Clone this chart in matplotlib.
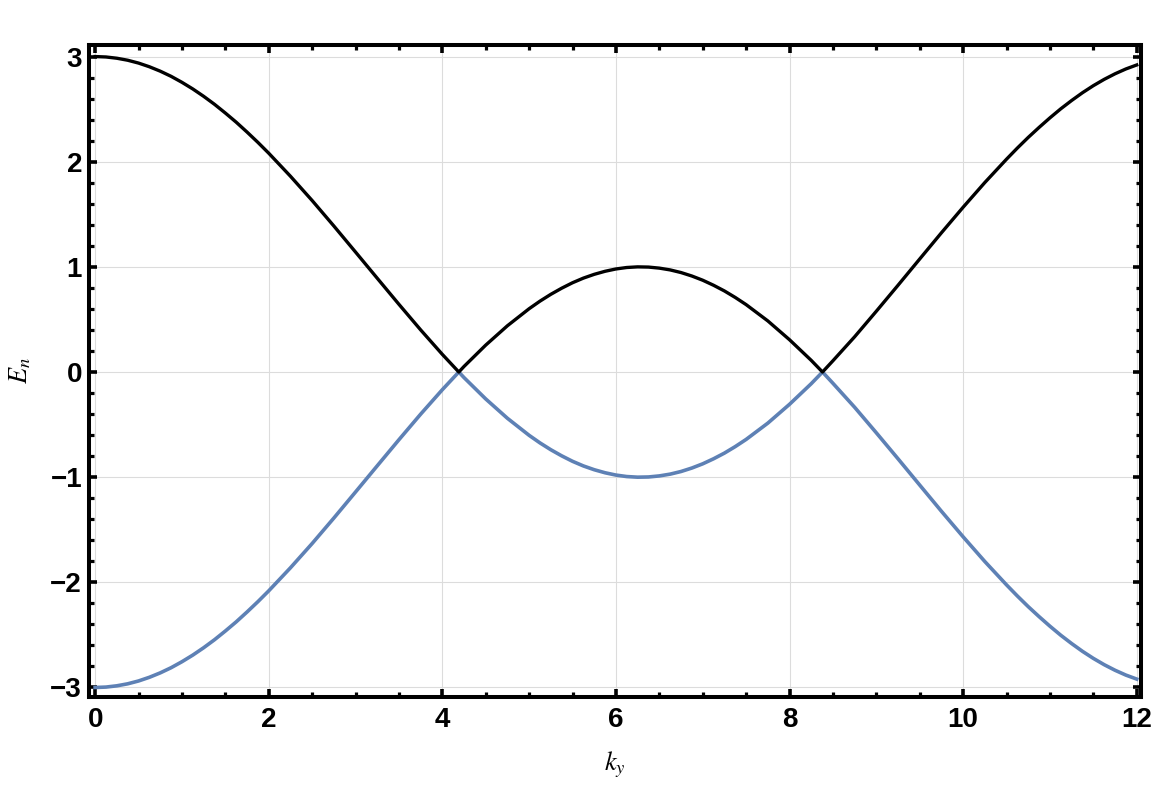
import numpy as np
import matplotlib
matplotlib.use("Agg")
import matplotlib.pyplot as plt
from matplotlib.ticker import MultipleLocator

# values
ky = [0.000, 0.125, 0.250, 0.375, 0.500, 0.625, 0.750, 0.875, 1.000, 1.125,
      1.250, 1.375, 1.500, 1.625, 1.750, 1.875, 2.000, 2.25, 2.50, 2.75,
      3.00, 3.25, 3.50, 3.75, 4.00, 4.19, 4.25, 4.50, 4.75,
      5.000, 5.125, 5.250, 5.375, 5.500, 5.625, 5.750, 5.875, 6.000, 6.125,
      6.250, 6.375, 6.500, 6.625, 6.750, 6.875, 7.000, 7.125, 7.250, 7.375,
      7.500, 7.75, 8.00, 8.25, 8.38, 8.50, 8.75, 9.00, 9.25, 9.50, 9.75,
      10.00, 10.25, 10.500, 10.625, 10.750, 10.875, 11.000, 11.125, 11.250,
      11.375, 11.500, 11.625, 11.750, 11.875, 12.000]
e_upper = [3.000, 2.996, 2.984, 2.965, 2.938, 2.903, 2.861, 2.812, 2.755, 2.692,
           2.622, 2.546, 2.463, 2.376, 2.282, 2.184, 2.081, 1.862, 1.631, 1.389,
           1.141, 0.892, 0.644, 0.401, 0.168, 0.000, 0.053, 0.256, 0.440,
           0.602, 0.674, 0.739, 0.797, 0.849, 0.893, 0.929, 0.958, 0.980, 0.994,
           1.000, 0.998, 0.988, 0.971, 0.946, 0.913, 0.873, 0.825, 0.771, 0.709,
           0.641, 0.486, 0.307, 0.111, 0.000, 0.107, 0.335, 0.578, 0.825, 1.075, 1.324,
           1.567, 1.802, 2.024, 2.130, 2.231, 2.326, 2.417, 2.503, 2.582,
           2.656, 2.723, 2.783, 2.836, 2.882, 2.920]
e_lower = [-3.000, -2.996, -2.984, -2.965, -2.938, -2.903, -2.861, -2.812, -2.755, -2.692,
           -2.622, -2.546, -2.463, -2.376, -2.282, -2.184, -2.081, -1.862, -1.631, -1.389,
           -1.141, -0.892, -0.644, -0.401, -0.168, 0.000, -0.053, -0.256, -0.440,
           -0.602, -0.674, -0.739, -0.797, -0.849, -0.893, -0.929, -0.958, -0.980, -0.994,
           -1.000, -0.998, -0.988, -0.971, -0.946, -0.913, -0.873, -0.825, -0.771, -0.709,
           -0.641, -0.486, -0.307, -0.111, 0.000, -0.107, -0.335, -0.578, -0.825, -1.075, -1.324,
           -1.567, -1.802, -2.024, -2.130, -2.231, -2.326, -2.417, -2.503, -2.582,
           -2.656, -2.723, -2.783, -2.836, -2.882, -2.920]

plt.rcParams['mathtext.fontset'] = 'stix'
plt.rcParams['font.family'] = ['Liberation Sans', 'DejaVu Sans']

fig = plt.figure(figsize=(11.52, 7.92), dpi=100)
ax = fig.add_axes([0.0773, 0.12, 0.9132, 0.8232])

ax.plot(ky, e_lower, color='#5E81B5', lw=2.6, solid_joinstyle='round', zorder=3)
ax.plot(ky, e_upper, color='black', lw=2.4, solid_joinstyle='round', zorder=4)

ax.set_xlim(-0.07, 12.05)
ax.set_ylim(-3.09, 3.11)

ax.xaxis.set_major_locator(MultipleLocator(2))
ax.xaxis.set_minor_locator(MultipleLocator(0.5))
ax.yaxis.set_major_locator(MultipleLocator(1))
ax.yaxis.set_minor_locator(MultipleLocator(0.2))

ax.grid(True, which='major', color='#dcdcdc', lw=0.8)
ax.set_axisbelow(True)

for s in ax.spines.values():
    s.set_linewidth(2.9)

ax.tick_params(which='both', direction='in', top=True, right=True, color='black')
ax.tick_params(which='major', length=5.8, width=2.6, labelsize=20, pad=5)
ax.tick_params(which='minor', length=3.4, width=2.3)
ax.tick_params(axis='x', which='major', pad=7)
for lab in ax.get_xticklabels() + ax.get_yticklabels():
    lab.set_fontweight('bold')

ax.set_xlabel(r'$k_y$', fontsize=19)
ax.set_ylabel(r'$E_n$', fontsize=19)
ax.xaxis.label.set_va('center')
ax.xaxis.set_label_coords(0.5, -0.104)
ax.yaxis.label.set_va('center')
ax.yaxis.set_label_coords(-0.065, 0.5)

fig.savefig('out.png', dpi=100)
